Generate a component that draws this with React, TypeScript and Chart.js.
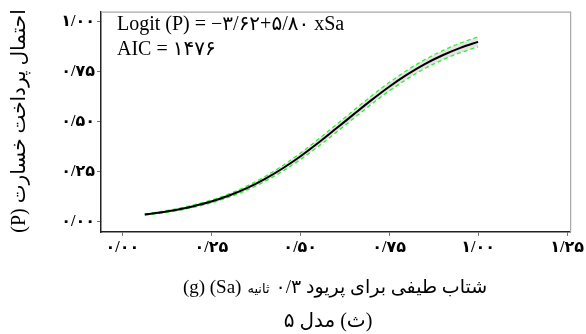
import React, { useEffect, useRef } from "react";
import { Chart, registerables } from "chart.js";

Chart.register(...registerables);

// Spectral acceleration Sa (g)
const saValues = [0.063, 0.1, 0.15, 0.2, 0.25, 0.3, 0.35, 0.4, 0.45, 0.5, 0.55, 0.6, 0.65, 0.7, 0.75, 0.8, 0.85, 0.9, 0.95, 1.0];
// fitted probability (black line)
const pFit = [0.037, 0.046, 0.060, 0.079, 0.102, 0.132, 0.169, 0.214, 0.267, 0.327, 0.394, 0.465, 0.537, 0.608, 0.675, 0.735, 0.788, 0.832, 0.869, 0.899];
// confidence band (green dashed)
const pUpper = [0.040, 0.050, 0.065, 0.085, 0.109, 0.140, 0.179, 0.226, 0.281, 0.343, 0.412, 0.484, 0.557, 0.629, 0.696, 0.757, 0.810, 0.855, 0.893, 0.924];
const pLower = [0.034, 0.042, 0.055, 0.073, 0.095, 0.124, 0.159, 0.202, 0.253, 0.311, 0.376, 0.446, 0.517, 0.587, 0.654, 0.713, 0.766, 0.809, 0.845, 0.874];

const xTickValues = [0, 0.25, 0.5, 0.75, 1.0, 1.25];
const xTickLabels = ["۰/۰۰", "۰/۲۵", "۰/۵۰", "۰/۷۵", "۱/۰۰", "۱/۲۵"];
const yTickValues = [0, 0.25, 0.5, 0.75, 1.0];
const yTickLabels = ["۰/۰۰", "۰/۲۵", "۰/۵۰", "۰/۷۵", "۱/۰۰"];

const formulaText = "Logit (P) = −۳/۶۲+۵/۸۰ xSa";
const aicText = "AIC = ۱۴۷۶";
const yTitle = "احتمال پرداخت خسارت (P)";
const xTitleMain = "شتاب طیفی برای پریود ۰/۳";
const xTitleSmall = "ثانیه";
const xTitleUnits = "(g) (Sa)";
const captionText = "(ث) مدل ۵";

const SERIF = "'Liberation Serif', 'DejaVu Serif', 'DejaVu Sans', serif";

const textPlugin = {
  id: "textPlugin",
  afterDraw(chart: any) {
    const ctx = chart.ctx as CanvasRenderingContext2D;
    const a = chart.chartArea;
    ctx.save();
    // top & right frame (grey)
    ctx.strokeStyle = "#a8a8a8";
    ctx.lineWidth = 1.2;
    ctx.beginPath();
    ctx.moveTo(a.left, a.top + 0.5);
    ctx.lineTo(a.right, a.top + 0.5);
    ctx.lineTo(a.right, a.bottom);
    ctx.stroke();

    // formula
    ctx.fillStyle = "#000";
    ctx.direction = "ltr";
    ctx.textAlign = "left";
    ctx.textBaseline = "alphabetic";
    ctx.font = `20px ${SERIF}`;
    ctx.fillText(formulaText, a.left + 16, 30);
    ctx.fillText(aicText, a.left + 16, 55);

    // y title
    ctx.save();
    ctx.translate(20, 121);
    ctx.rotate(-Math.PI / 2);
    ctx.direction = "rtl";
    ctx.textAlign = "center";
    ctx.textBaseline = "middle";
    ctx.font = `20px ${SERIF}`;
    ctx.fillText(yTitle, 0, 0);
    ctx.restore();

    // x title with mixed sizes
    const big = `19px ${SERIF}`;
    const small = `13px ${SERIF}`;
    ctx.textBaseline = "alphabetic";
    ctx.font = big;
    const w1 = ctx.measureText(xTitleMain).width;
    const w3 = ctx.measureText(xTitleUnits).width;
    ctx.font = small;
    const w2 = ctx.measureText(xTitleSmall).width;
    const gap = 6;
    const total = w1 + w2 + w3 + 2 * gap;
    const cx = 335;
    const right = cx + total / 2;
    const baseY = 293;
    ctx.font = big;
    ctx.direction = "rtl";
    ctx.textAlign = "right";
    ctx.fillText(xTitleMain, right, baseY);
    ctx.font = small;
    ctx.fillText(xTitleSmall, right - w1 - gap, baseY);
    ctx.font = big;
    ctx.direction = "ltr";
    ctx.textAlign = "left";
    ctx.fillText(xTitleUnits, right - total, baseY);

    // caption
    ctx.direction = "rtl";
    ctx.textAlign = "center";
    ctx.font = `20px ${SERIF}`;
    ctx.fillText(captionText, 328, 327);
    ctx.restore();
  },
};

export default function App() {
  const ref = useRef<HTMLCanvasElement | null>(null);
  useEffect(() => {
    if (!ref.current) return;
    const toPts = (ys: number[]) => saValues.map((x, i) => ({ x, y: ys[i] }));
    const chart = new Chart(ref.current, {
      type: "line",
      data: {
        datasets: [
          {
            label: "upper",
            data: toPts(pUpper),
            borderColor: "#33ee33",
            borderWidth: 1.3,
            borderDash: [4, 3],
            pointRadius: 0,
            fill: false,
            cubicInterpolationMode: "monotone",
            order: 1,
          },
          {
            label: "lower",
            data: toPts(pLower),
            borderColor: "#33ee33",
            borderWidth: 1.3,
            borderDash: [4, 3],
            pointRadius: 0,
            fill: "-1",
            backgroundColor: "rgba(210,210,210,0.6)",
            cubicInterpolationMode: "monotone",
            order: 2,
          },
          {
            label: "fit",
            data: toPts(pFit),
            borderColor: "#000000",
            borderWidth: 2,
            pointRadius: 0,
            fill: false,
            cubicInterpolationMode: "monotone",
            order: 0,
          },
        ],
      },
      options: {
        animation: false,
        responsive: false,
        maintainAspectRatio: false,
        layout: { padding: { top: 8, right: 7, left: 0, bottom: 0 } },
        plugins: { legend: { display: false }, tooltip: { enabled: false } },
        scales: {
          x: {
            type: "linear",
            min: -0.06,
            max: 1.26,
            afterBuildTicks: (s: any) => {
              s.ticks = xTickValues.map((v) => ({ value: v }));
            },
            afterFit: (s: any) => {
              s.height = 102;
            },
            ticks: {
              autoSkip: false,
              maxRotation: 0,
              padding: 2,
              color: "#000",
              font: { family: SERIF, size: 16, weight: "bold" },
              callback: (_v: any, i: number) => xTickLabels[i],
            },
            grid: { drawOnChartArea: false, drawTicks: true, tickLength: 4, color: "#777" },
            border: { display: true, color: "#222", width: 1.5 },
          },
          y: {
            type: "linear",
            min: -0.05,
            max: 1.05,
            afterBuildTicks: (s: any) => {
              s.ticks = yTickValues.map((v) => ({ value: v }));
            },
            afterFit: (s: any) => {
              s.width = 101;
            },
            ticks: {
              autoSkip: false,
              padding: 2,
              color: "#000",
              font: { family: SERIF, size: 16, weight: "bold" },
              callback: (_v: any, i: number) => yTickLabels[i],
            },
            grid: { drawOnChartArea: false, drawTicks: true, tickLength: 4, color: "#777" },
            border: { display: true, color: "#222", width: 1.5 },
          },
        },
      },
      plugins: [textPlugin],
    });
    return () => chart.destroy();
  }, []);
  return (
    <div style={{ position: "absolute", left: 0, top: 0, width: 586, height: 334, background: "#fff" }}>
      <canvas ref={ref} width={586} height={334} style={{ width: 586, height: 334 }} />
    </div>
  );
}
